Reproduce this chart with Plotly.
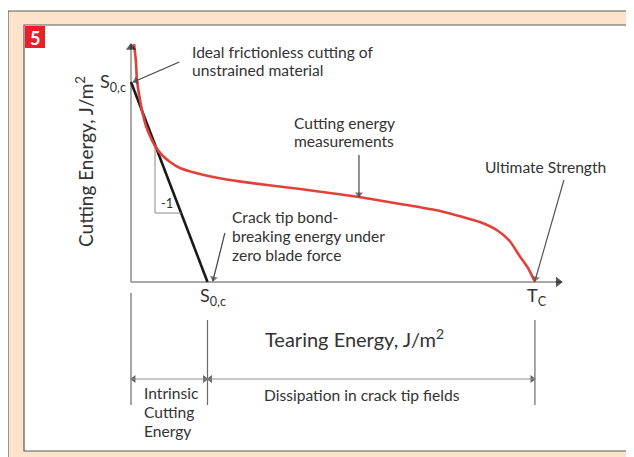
import math
import plotly.graph_objects as go

W, H = 634, 457
OFF = 8  # page body margin offset compensation

# ---- data (arbitrary units: S0,c = 1 on both axes) ----
tear_energy = [0.04, 0.065, 0.078, 0.118, 0.157, 0.196, 0.248, 0.314, 0.405, 0.51, 0.64,
               0.80, 1.01, 1.29, 1.78, 2.21, 2.60, 2.98, 3.52, 4.04, 4.34, 4.56, 4.78,
               4.95, 5.08, 5.19, 5.28]
cutting_energy = [1.19, 1.10, 1.01, 0.91, 0.835, 0.78, 0.73, 0.68, 0.635, 0.60, 0.57,
                  0.55, 0.53, 0.51, 0.485, 0.465, 0.445, 0.425, 0.39, 0.355, 0.325, 0.30,
                  0.26, 0.205, 0.13, 0.07, 0.0]
S0C = 1.0          # intrinsic cutting energy (both axes)
TC = 5.28          # ultimate tearing energy
AXIS_X_END = 5.63
AXIS_Y_END = 1.19
SLOPE_MARK_X = 0.314   # where the "-1" slope triangle sits
SLOPE_MARK_Y = 0.345
DIM_Y = -0.485         # dimension arrows below the axis

# pixel <-> data mapping (x: 0 at px 131, 76.5 px/unit ; y: 0 at py 282, 200 px/unit)
X0, XS = 131 - OFF, 76.5
Y0, YS = 282 - OFF, 200
xr = [(0 - X0) / XS, (W - X0) / XS]
yr = [(Y0 - H) / YS, Y0 / YS]

def px(x):
    return (x - OFF) / W

def py(y):
    return 1 - (y - OFF) / H

TXT = "#333333"
FONT = "Lato"
FS = 15.6

fig = go.Figure()
shapes = []

# outer beige frame
shapes.append(dict(type="rect", xref="paper", yref="paper", x0=px(8), x1=px(680),
                   y0=py(11), y1=py(490), fillcolor="#fde3cb",
                   line=dict(color="#5a5a5a", width=1.2), layer="below"))
# inner white panel
shapes.append(dict(type="rect", xref="paper", yref="paper", x0=px(24), x1=px(680),
                   y0=py(25), y1=py(451), fillcolor="white",
                   line=dict(color="#5a5a5a", width=1.2), layer="below"))
# red number box
shapes.append(dict(type="rect", xref="paper", yref="paper", x0=px(25), x1=px(45),
                   y0=py(26), y1=py(48), fillcolor="#e8202a",
                   line=dict(width=0), layer="below"))
# axes lines
shapes.append(dict(type="line", x0=0, x1=AXIS_X_END, y0=0, y1=0,
                   line=dict(color="#8c8c8c", width=1.5), layer="below"))
shapes.append(dict(type="line", x0=0, x1=0, y0=0, y1=AXIS_Y_END,
                   line=dict(color="#8c8c8c", width=1.5), layer="below"))
# dimension guide lines
shapes.append(dict(type="line", x0=0, x1=0, y0=-0.055, y1=-0.615,
                   line=dict(color="#6a6a6a", width=1.2)))
for xv in (S0C, TC):
    shapes.append(dict(type="line", x0=xv, x1=xv, y0=-0.19, y1=-0.615,
                       line=dict(color="#6a6a6a", width=1.2)))
shapes.append(dict(type="line", x0=0, x1=TC, y0=DIM_Y, y1=DIM_Y,
                   line=dict(color="#8c8c8c", width=1.2)))

# arrowheads (as rotated triangle markers)
head_x, head_y, head_ang, head_col, head_size = [], [], [], [], []

def head(hx, hy, dxp, dyp, color, size):
    """arrowhead at data point (hx,hy) pointing away from pixel offset (dxp,dyp)."""
    n = math.hypot(dxp, dyp)
    ux, uy = -dxp / n, -dyp / n          # direction tail->head in screen px (y down)
    back = size * 0.38
    head_x.append(hx - ux * back / XS)
    head_y.append(hy + uy * back / YS)
    head_ang.append(math.degrees(math.atan2(ux, -uy)))
    head_col.append(color)
    head_size.append(size)

def pointer(hx, hy, dxp, dyp, color="#444444", size=7, width=1.2):
    shapes.append(dict(type="line", x0=hx + dxp / XS, y0=hy - dyp / YS, x1=hx, y1=hy,
                       line=dict(color=color, width=width)))
    head(hx, hy, dxp, dyp, color, size)

# axis arrowheads
head(AXIS_X_END, 0, -10, 0, "#111111", 9)
head(0, AXIS_Y_END, 0, 10, "#111111", 9)
# dimension arrowheads
head(0, DIM_Y, 12, 0, "#222222", 7)
head(S0C, DIM_Y, -12, 0, "#222222", 7)
head(S0C, DIM_Y, 12, 0, "#222222", 7)
head(TC, DIM_Y, -12, 0, "#222222", 7)
# pointers to annotated points
pointer(0.03, S0C, 46, -20)
pointer(2.98, 0.425, 0, -42)
pointer(1.07, 0.005, 12, -48)
pointer(TC, 0.005, 29, -101, color="#555555")

# intrinsic line (slope -1)
fig.add_trace(go.Scatter(x=[0, S0C], y=[S0C, 0], mode="lines",
                         line=dict(color="#1a1a1a", width=2.6), hoverinfo="skip"))
# slope triangle
fig.add_trace(go.Scatter(x=[SLOPE_MARK_X, SLOPE_MARK_X, S0C - SLOPE_MARK_Y],
                         y=[S0C - SLOPE_MARK_X, SLOPE_MARK_Y, SLOPE_MARK_Y], mode="lines",
                         line=dict(color="#8a8a8a", width=1), hoverinfo="skip"))
# cutting energy measurements
fig.add_trace(go.Scatter(x=tear_energy, y=cutting_energy, mode="lines",
                         line=dict(color="#e2413a", width=2.6, shape="spline", smoothing=0.6),
                         hoverinfo="skip"))
# arrowheads
fig.add_trace(go.Scatter(x=head_x, y=head_y, mode="markers", hoverinfo="skip",
                         marker=dict(symbol="triangle-up", size=head_size, angle=head_ang,
                                     color=head_col, line=dict(width=0))))

ann = []

def text(x, y, s, size=FS, xanchor="left", color=TXT, **kw):
    ann.append(dict(x=px(x), y=py(y), xref="paper", yref="paper", text=s, showarrow=False,
                    xanchor=xanchor, yanchor="middle",
                    font=dict(family=FONT, size=size, color=color), **kw))

# texts (positions in page pixels)
text(190, 52, "Ideal frictionless cutting of")
text(190, 70, "unstrained material")
text(344, 123, "Cutting energy", xanchor="center")
text(344, 141, "measurements", xanchor="center")
text(483, 167, "Ultimate Strength")
text(230, 217, "Crack tip bond-")
text(230, 236, "breaking energy under")
text(230, 255, "zero blade force")
text(167, 203, "-1", size=13, xanchor="center")
text(128, 83, "S<sub>0,c</sub>", size=18, xanchor="right")
text(213, 296, "S<sub>0,c</sub>", size=18, xanchor="center")
text(537, 296, "T<sub>C</sub>", size=18, xanchor="center")
text(354, 338, "Tearing Energy, J/m<sup>2</sup>", size=20, xanchor="center")
text(84, 162, "Cutting Energy, J/m<sup>2</sup>", size=19, xanchor="center", textangle=-90)
text(142, 393, "Intrinsic")
text(142, 412, "Cutting")
text(142, 431, "Energy")
text(362, 395, "Dissipation in crack tip fields", xanchor="center")
text(35, 37.5, "<b>5</b>", size=18, xanchor="center", color="white")

fig.update_layout(
    width=W, height=H,
    margin=dict(l=0, r=0, t=0, b=0),
    paper_bgcolor="white", plot_bgcolor="rgba(0,0,0,0)",
    showlegend=False,
    xaxis=dict(range=xr, visible=False, fixedrange=True),
    yaxis=dict(range=yr, visible=False, fixedrange=True),
    shapes=shapes, annotations=ann,
)

fig.write_html("out.html")
